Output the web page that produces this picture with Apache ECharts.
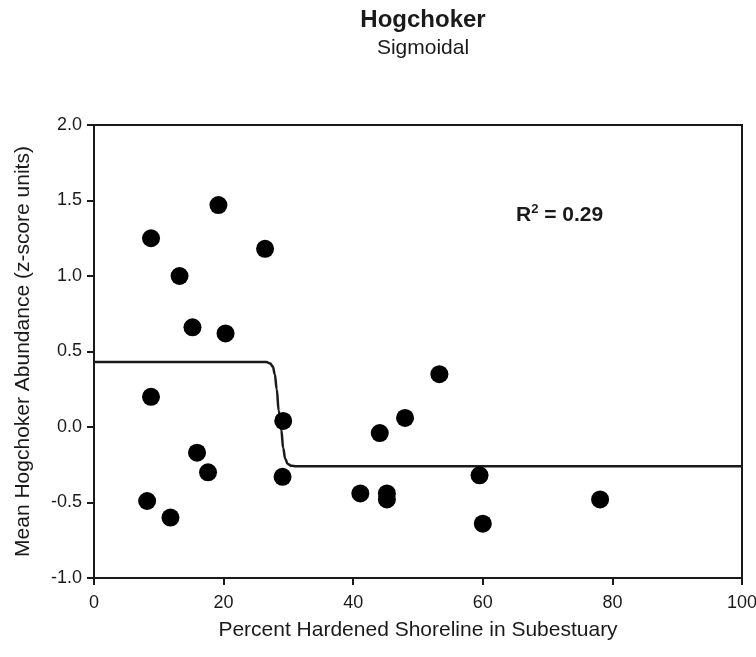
<!DOCTYPE html>
<html>
<head>
<meta charset="utf-8">
<title>Hogchoker – Sigmoidal</title>
<script src="https://cdn.jsdelivr.net/npm/echarts@6/dist/echarts.min.js"></script>
<style>
  html, body { margin: 0; padding: 0; background: #fff; }
  #chart { width: 756px; height: 657px; }
</style>
</head>
<body>
<div id="chart"></div>
<script>
// Subestuary observations: percent hardened shoreline vs. mean abundance (z-score)
var pctHardened = [8.8, 19.2, 13.2, 26.4, 15.2, 20.3, 8.8, 29.2, 15.9, 17.6, 29.1, 8.2, 11.8,
                   44.1, 48.0, 53.3, 41.1, 45.2, 45.2, 59.5, 60.0, 78.1];
var abundance   = [1.25, 1.47, 1.00, 1.18, 0.66, 0.62, 0.20, 0.04, -0.17, -0.30, -0.33, -0.49, -0.60,
                   -0.04, 0.06, 0.35, -0.44, -0.44, -0.48, -0.32, -0.64, -0.48];

// Fitted sigmoidal curve (x, y)
var fitX = [0, 26.6, 27.2, 27.6, 27.9, 28.2, 28.5, 28.9, 29.2, 29.5, 29.9, 30.5, 31.2, 100];
var fitY = [0.43, 0.43, 0.42, 0.40, 0.35, 0.25, 0.11, -0.02, -0.14, -0.21, -0.245, -0.257, -0.26, -0.26];

// Axis ticks
var xTicks = { min: 0, max: 100, interval: 20 };
var yTicks = { min: -1, max: 2, interval: 0.5 };

var chartTitle = 'Hogchoker';
var chartSubtitle = 'Sigmoidal';
var xName = 'Percent Hardened Shoreline in Subestuary';
var yName = 'Mean Hogchoker Abundance (z-score units)';
var r2Value = '0.29';

var FONT = '"Liberation Sans", Arial, sans-serif';
var INK = '#1a1a1a';

var scatterData = pctHardened.map(function (x, i) { return [x, abundance[i]]; });
var fitData = fitX.map(function (x, i) { return [x, fitY[i]]; });

var chart = echarts.init(document.getElementById('chart'), null, { renderer: 'canvas' });

var axisLineStyle = { show: true, onZero: false, lineStyle: { color: INK, width: 2 } };

chart.setOption({
  animation: false,
  backgroundColor: '#fff',
  title: {
    text: chartTitle,
    subtext: chartSubtitle,
    left: 418,
    top: 3,
    textAlign: 'center',
    itemGap: 6,
    textStyle: { fontFamily: FONT, fontSize: 24, fontWeight: 'bold', color: INK },
    subtextStyle: { fontFamily: FONT, fontSize: 21, color: INK }
  },
  grid: {
    left: 94, right: 14, top: 125, bottom: 79,
    outerBoundsMode: 'none',
    containLabel: false,
    show: true, borderColor: INK, borderWidth: 2, backgroundColor: 'transparent'
  },
  xAxis: {
    type: 'value',
    min: xTicks.min, max: xTicks.max, interval: xTicks.interval,
    name: xName,
    nameLocation: 'middle',
    nameGap: 42,
    nameTextStyle: { fontFamily: FONT, fontSize: 21, color: INK },
    axisLine: axisLineStyle,
    axisTick: { show: true, inside: false, length: 7, lineStyle: { color: INK, width: 2 } },
    axisLabel: { fontFamily: FONT, fontSize: 18, color: INK, margin: 16 },
    splitLine: { show: false }
  },
  yAxis: {
    type: 'value',
    min: yTicks.min, max: yTicks.max, interval: yTicks.interval,
    name: yName,
    nameLocation: 'middle',
    nameGap: 60,
    nameTextStyle: { fontFamily: FONT, fontSize: 21, color: INK },
    axisLine: axisLineStyle,
    axisTick: { show: true, inside: false, length: 7, lineStyle: { color: INK, width: 2 } },
    axisLabel: {
      fontFamily: FONT, fontSize: 18, color: INK, margin: 12,
      formatter: function (v) { return v.toFixed(1); }
    },
    splitLine: { show: false }
  },
  series: [
    {
      name: 'fit',
      type: 'line',
      data: fitData,
      smooth: 0.4,
      smoothMonotone: 'x',
      showSymbol: false,
      symbol: 'none',
      lineStyle: { color: INK, width: 2.5 },
      z: 2
    },
    {
      name: 'observed',
      type: 'scatter',
      data: scatterData,
      symbol: 'circle',
      symbolSize: 18,
      itemStyle: { color: '#000', opacity: 1 },
      z: 3
    }
  ],
  graphic: [
    {
      type: 'text',
      left: 516,
      top: 203,
      style: {
        text: '{r|R}{s|2}{r| = ' + r2Value + '}',
        rich: {
          r: { fontFamily: FONT, fontSize: 21, fontWeight: 'bold', fill: INK, lineHeight: 24 },
          s: { fontFamily: FONT, fontSize: 13, fontWeight: 'bold', fill: INK, verticalAlign: 'top', lineHeight: 14 }
        }
      }
    }
  ]
});
</script>
</body>
</html>
